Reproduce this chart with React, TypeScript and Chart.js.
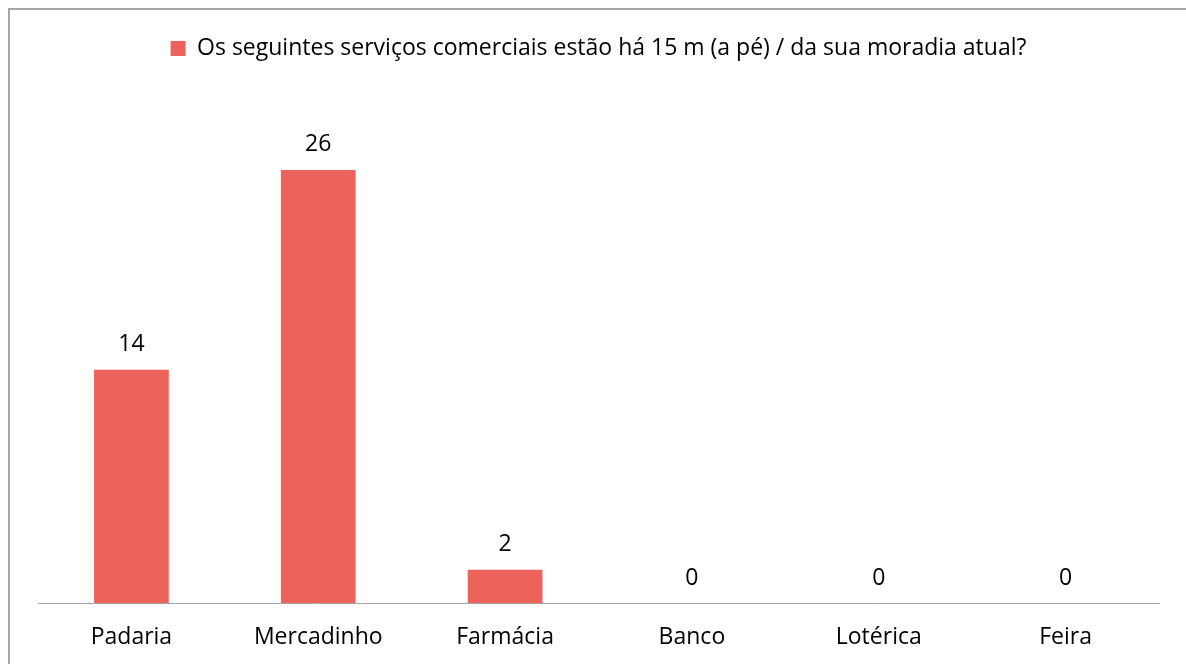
import React, { useEffect, useRef } from "react";
import { Chart, registerables } from "chart.js";

Chart.register(...registerables);

const categories = ["Padaria", "Mercadinho", "Farmácia", "Banco", "Lotérica", "Feira"];
const values = [14, 26, 2, 0, 0, 0];
const seriesLabel = "Os seguintes serviços comerciais estão há 15 m (a pé) / da sua moradia atual?";

const FONT = "'Open Sans', 'Noto Sans', sans-serif";
const FONT_SIZE = 23;
const BAR_COLOR = "#ED625B";

const valueLabels = {
  id: "valueLabels",
  afterDatasetsDraw(chart: any) {
    const { ctx } = chart;
    const meta = chart.getDatasetMeta(0);
    ctx.save();
    ctx.font = `${FONT_SIZE}px ${FONT}`;
    ctx.fillStyle = "#000";
    ctx.textAlign = "center";
    ctx.textBaseline = "middle";
    meta.data.forEach((bar: any, i: number) => {
      ctx.fillText(String(values[i]), bar.x, bar.y - 25);
    });
    ctx.restore();
  },
};

export default function App() {
  const ref = useRef<HTMLCanvasElement>(null);
  useEffect(() => {
    document.documentElement.style.overflow = "hidden";
    document.body.style.overflow = "hidden";
    const chart = new Chart(ref.current!, {
      type: "bar",
      data: {
        labels: categories,
        datasets: [
          {
            label: seriesLabel,
            data: values,
            backgroundColor: BAR_COLOR,
            categoryPercentage: 1,
            barPercentage: 0.4,
          },
        ],
      },
      options: {
        responsive: false,
        animation: false,
        layout: { padding: { left: 28, right: 27, top: 17, bottom: 13 } },
        plugins: {
          tooltip: { enabled: false },
          legend: {
            position: "top",
            labels: {
              boxWidth: 15,
              boxHeight: 15,
              color: "#000",
              font: { family: FONT, size: FONT_SIZE },
              padding: 10,
            },
          },
        },
        scales: {
          x: {
            grid: { display: false, drawTicks: false },
            border: { display: true, color: "#A6A6A6", width: 1 },
            ticks: { color: "#000", font: { family: FONT, size: FONT_SIZE }, padding: 21 },
            afterFit: (s: any) => {
              s.height = 48;
            },
          },
          y: { display: false, min: 0, max: 32 },
        },
      },
      plugins: [valueLabels],
    });
    return () => chart.destroy();
  }, []);
  return (
    <div
      style={{
        position: "fixed",
        left: 8,
        top: 8,
        width: 1178,
        height: 656,
        overflow: "hidden",
        borderTop: "2px solid #A6A6A6",
        borderLeft: "2px solid #A6A6A6",
        boxSizing: "border-box",
        background: "#fff",
      }}
    >
      <canvas ref={ref} width={1176} height={654} style={{ display: "block" }} />
    </div>
  );
}
